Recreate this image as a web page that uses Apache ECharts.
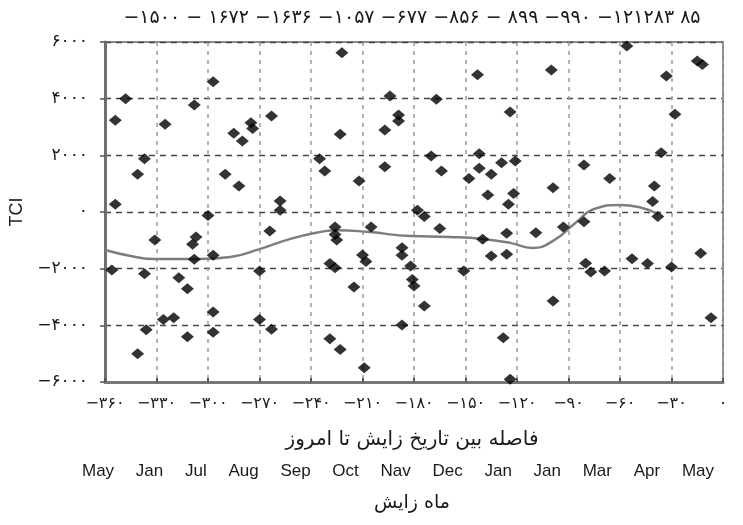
<!DOCTYPE html>
<html>
<head>
<meta charset="utf-8">
<script src="https://cdn.jsdelivr.net/npm/echarts@6/dist/echarts.min.js"></script>
<style>
html,body{margin:0;padding:0;background:#fff;}
#chart{width:743px;height:525px;}
</style>
</head>
<body>
<div id="chart"></div>
<script>
// ---- data ----
const topLabels = ['−۱۵۰۰', '− ۱۶۷۲', '−۱۶۳۶', '−۱۰۵۷', '−۶۷۷', '−۸۵۶', '− ۸۹۹', '−۹۹۰', '−۱۲۱۲۸۳', '۸۵'];
const monthLabels = ['May', 'Jan', 'Jul', 'Aug', 'Sep', 'Oct', 'Nav', 'Dec', 'Jan', 'Jan', 'Mar', 'Apr', 'May'];
const xTitle = 'فاصله بین تاریخ زایش تا امروز';
const monthTitle = 'ماه زایش';
const yTitle = 'TCI';

const pointX = [
  -222, -297, -348, -308, -354, -325, -275, -274, -285, -280, -263, -223, -194, -189, -189, -197,
  -337, -341, -290, -282, -235, -232, -212, -197, -354, -258, -258, -300, -178, -174, -170,
  -56, -15, -12, -143, -100, -33, -167, -124, -28,
  -164, -142, -142, -135, -148, -129, -121, -122, -125, -137, -99, -81, -66, -36, -40, -41, -38,
  -331, -307, -309, -308, -297, -264, -226, -226, -225, -205,
  -356, -337, -317, -312, -270, -229, -226, -210, -208, -187, -187, -182, -181, -180, -215, -174,
  -326, -320, -297, -270, -263, -336, -312, -297, -341, -229, -223, -209, -187,
  -165, -140, -126, -109, -93, -81, -135, -126, -151, -80, -77, -69, -53, -44, -30, -13,
  -99, -7, -128, -124
];
const pointY = [
  5620, 4600, 4000, 3780, 3240, 3100, 3150, 2950, 2780, 2510, 3390, 2740, 4090, 3420, 3210, 2890,
  1880, 1330, 1330, 920, 1880, 1450, 1090, 1600, 270, 390, 60, -120, 60, -160, 1980,
  5860, 5330, 5210, 4840, 5010, 4800, 3980, 3530, 3450,
  1450, 2060, 1540, 1330, 1180, 1740, 1800, 650, 270, 600, 860, 1660, 1180, 2090, 920, 370, -160,
  -990, -880, -1140, -1670, -1530, -670, -530, -790, -990, -530,
  -2050, -2180, -2320, -2710, -2080, -1820, -1970, -1520, -1750, -1260, -1530, -1910, -2380, -2610, -2650, -3320,
  -3790, -3730, -3530, -3790, -4140, -4160, -4400, -4240, -5000, -4470, -4850, -5500, -3990,
  -580, -960, -750, -730, -530, -340, -1550, -1490, -2080, -1810, -2120, -2080, -1650, -1820, -1940, -1460,
  -3140, -3730, -4440, -5900
];

const lineX = [-360, -345, -331, -305, -287, -270, -252, -235, -225, -206, -182, -159, -140, -124, -111, -99, -86, -75, -60, -47, -38];
const lineY = [-1340, -1550, -1660, -1660, -1590, -1310, -950, -710, -640, -710, -850, -880, -950, -1090, -1270, -1020, -390, 110, 250, 140, -70];

// ---- helpers ----
const faDigits = '۰۱۲۳۴۵۶۷۸۹';
function toFa(v) {
  const s = String(Math.abs(Math.round(v))).replace(/\d/g, d => faDigits[d]);
  return v < 0 ? '−' + s : s;
}

const points = pointX.map((x, i) => [x, pointY[i]]);
const curve = lineX.map((x, i) => [x, lineY[i]]);

const chart = echarts.init(document.getElementById('chart'), null, {renderer: 'canvas'});
const persianFont = "'DejaVu Sans', 'Noto Sans', sans-serif";
const latinFont = "'Liberation Sans', Arial, sans-serif";

chart.setOption({
  animation: false,
  backgroundColor: '#fff',
  grid: {
    left: 105, right: 20, top: 42, bottom: 143,
    show: true, borderColor: '#8c8c8c', borderWidth: 2, containLabel: false
  },
  xAxis: {
    type: 'value', min: -360, max: 0, interval: 30,
    axisLine: {show: true, onZero: false, lineStyle: {color: '#777', width: 3}},
    axisTick: {show: true, inside: true, length: 4, lineStyle: {color: '#555', width: 2}},
    axisLabel: {formatter: toFa, color: '#1a1a1a', fontSize: 16, fontFamily: persianFont, margin: 14},
    splitLine: {show: true, lineStyle: {type: [4, 5], color: '#9a9a9a', width: 1.5}}
  },
  yAxis: {
    type: 'value', min: -6000, max: 6000, interval: 2000,
    name: yTitle, nameLocation: 'middle', nameGap: 74, nameRotate: 90,
    nameTextStyle: {fontFamily: latinFont, fontSize: 18, color: '#1a1a1a'},
    axisLine: {show: true, onZero: false, lineStyle: {color: '#6f6f6f', width: 3}},
    axisTick: {show: true, length: 5, lineStyle: {color: '#555', width: 1.5}},
    axisLabel: {formatter: toFa, color: '#1a1a1a', fontSize: 17, fontFamily: persianFont, margin: 17},
    splitLine: {show: true, lineStyle: {type: [6, 5], color: '#444', width: 1.3}}
  },
  graphic: [
    {type: 'text', x: 412, y: 18, style: {
      text: topLabels.join(' '), font: "19px " + persianFont, fill: '#1a1a1a', align: 'center', verticalAlign: 'middle'}},
    {type: 'text', x: 412, y: 440, style: {
      text: xTitle, font: "20px " + persianFont, fill: '#1a1a1a', align: 'center', verticalAlign: 'middle'}},
    {type: 'text', x: 398, y: 471, style: {
      text: monthLabels.join('\u2002\u2002 '), font: "17px " + latinFont, fill: '#1a1a1a', align: 'center', verticalAlign: 'middle'}},
    {type: 'text', x: 412, y: 503, style: {
      text: monthTitle, font: "19px " + persianFont, fill: '#1a1a1a', align: 'center', verticalAlign: 'middle'}}
  ],
  series: [
    {
      type: 'line', data: curve, smooth: 0.5, showSymbol: false, symbol: 'none',
      lineStyle: {color: '#7d7d7d', width: 2.5}, z: 2
    },
    {
      type: 'scatter', data: points, symbol: 'diamond', symbolSize: [13, 11],
      itemStyle: {color: '#000'}, z: 3
    }
  ]
});
</script>
</body>
</html>
